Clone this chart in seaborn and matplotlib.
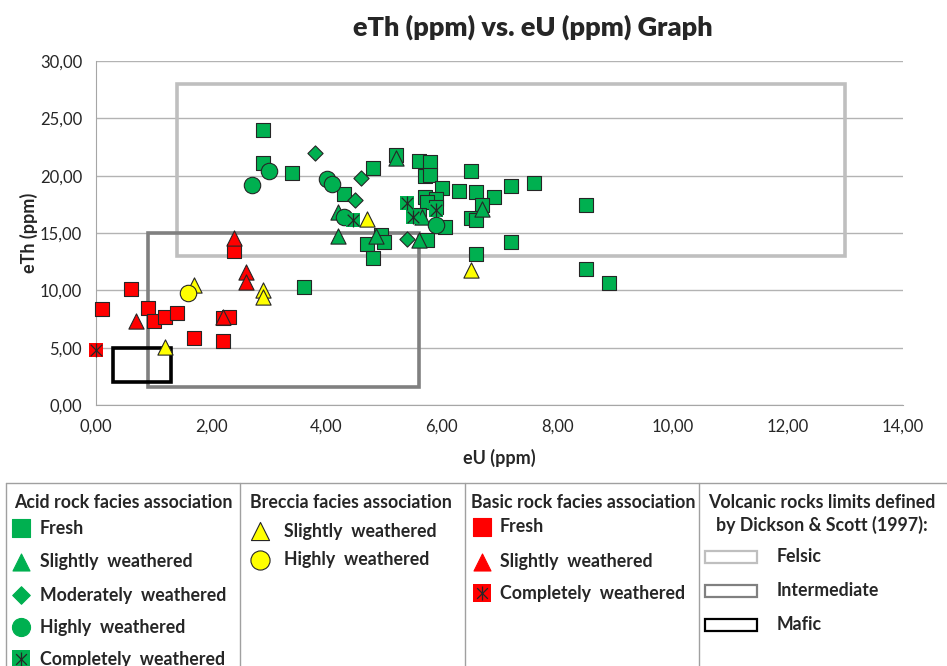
import numpy as np
import pandas as pd
import seaborn as sns
import matplotlib.pyplot as plt
from matplotlib.patches import Rectangle
from matplotlib.ticker import FuncFormatter

#%% data
acid_fresh_u = [2.9, 2.9, 3.4, 4.3, 4.8, 5.2, 5.6, 5.8, 5.7, 5.8, 6.0, 5.7, 5.9, 5.75, 5.6, 6.05,
                6.3, 6.5, 6.6, 6.9, 7.2, 7.6, 6.7, 6.5, 6.6, 7.2, 6.6, 3.6, 4.7, 4.95, 5.0, 4.8,
                5.75, 8.5, 8.5, 8.9, 5.9]
acid_fresh_th = [24.0, 21.1, 20.2, 18.4, 20.7, 21.8, 21.3, 21.2, 20.0, 20.1, 18.9, 18.1, 18.0, 17.7, 16.6, 15.5,
                 18.7, 20.4, 18.6, 18.1, 19.1, 19.4, 17.4, 16.3, 16.1, 14.2, 13.2, 10.3, 14.0, 14.8, 14.2, 12.8,
                 14.4, 17.4, 11.9, 10.6, 17.3]

acid_slight_u = [4.2, 4.2, 5.2, 4.85, 5.6, 5.65, 6.7]
acid_slight_th = [16.8, 14.7, 21.5, 14.7, 14.4, 16.4, 17.1]

acid_moderate_u = [3.8, 4.6, 4.5, 5.4]
acid_moderate_th = [22.0, 19.8, 17.9, 14.5]

acid_high_u = [2.7, 3.0, 4.0, 4.1, 4.3, 5.9]
acid_high_th = [19.2, 20.4, 19.7, 19.3, 16.4, 15.7]

acid_complete_u = [4.45, 5.4, 5.5, 5.9]
acid_complete_th = [16.1, 17.6, 16.4, 17.0]

breccia_slight_u = [1.7, 2.9, 2.9, 1.2, 4.7, 6.5]
breccia_slight_th = [10.5, 10.0, 9.4, 5.1, 16.2, 11.8]

breccia_high_u = [1.6]
breccia_high_th = [9.8]

basic_fresh_u = [0.1, 0.6, 0.9, 1.0, 1.2, 1.4, 2.2, 2.3, 1.7, 2.2, 2.4]
basic_fresh_th = [8.4, 10.1, 8.5, 7.3, 7.7, 8.0, 7.6, 7.7, 5.8, 5.6, 13.4]

basic_slight_u = [0.7, 2.4, 2.6, 2.6, 2.2]
basic_slight_th = [7.3, 14.6, 11.6, 10.7, 7.7]

basic_complete_u = [0.0]
basic_complete_th = [4.8]

# Dickson & Scott (1997) limits: (U min, U max), (Th min, Th max)
limit_names = ["Felsic", "Intermediate", "Mafic"]
limit_u = [(1.4, 13.0), (0.9, 5.6), (0.3, 1.3)]
limit_th = [(13.0, 28.0), (1.6, 15.0), (2.0, 5.0)]

#%% style
GREEN = "#00B050"
RED = "#FF0000"
YELLOW = "#FFFF00"
EDGE = "#262626"
limit_colors = ["#BFBFBF", "#808080", "#000000"]

sns.set_style("white")
plt.rcParams['font.family'] = ['Lato', 'DejaVu Sans']

fig = plt.figure(figsize=(9.47, 6.66), dpi=100)
ax = fig.add_axes([96 / 947, 1 - 405 / 666, (903 - 96) / 947, (405 - 61) / 666])

# limit boxes
for (u0, u1), (t0, t1), c in zip(limit_u, limit_th, limit_colors):
    ax.add_patch(Rectangle((u0, t0), u1 - u0, t1 - t0, fill=False, edgecolor=c, lw=2.6, zorder=2))

series = [
    (acid_fresh_u, acid_fresh_th, "s", GREEN, 110, False),
    (acid_slight_u, acid_slight_th, "^", GREEN, 120, False),
    (acid_moderate_u, acid_moderate_th, "D", GREEN, 60, False),
    (acid_high_u, acid_high_th, "o", GREEN, 140, False),
    (acid_complete_u, acid_complete_th, "s", GREEN, 110, True),
    (basic_fresh_u, basic_fresh_th, "s", RED, 110, False),
    (basic_slight_u, basic_slight_th, "^", RED, 120, False),
    (basic_complete_u, basic_complete_th, "s", RED, 110, True),
    (breccia_slight_u, breccia_slight_th, "^", YELLOW, 120, False),
    (breccia_high_u, breccia_high_th, "o", YELLOW, 140, False),
]

for u, th, mk, col, size, cross in series:
    df = pd.DataFrame({"eU": u, "eTh": th})
    if cross:
        sns.scatterplot(data=df, x="eU", y="eTh", marker=mk, color=col, s=size,
                        edgecolor=col, linewidth=0, ax=ax, zorder=3, clip_on=False)
        sns.scatterplot(data=df, x="eU", y="eTh", marker="x", color=EDGE, s=70,
                        linewidth=0.9, ax=ax, zorder=3, clip_on=False)
        sns.scatterplot(data=df, x="eU", y="eTh", marker="|", color=EDGE, s=110,
                        linewidth=0.9, ax=ax, zorder=3, clip_on=False)
    else:
        sns.scatterplot(data=df, x="eU", y="eTh", marker=mk, color=col, s=size,
                        edgecolor=EDGE, linewidth=0.8, ax=ax, zorder=3, clip_on=False)

ax.set_xlim(0, 14)
ax.set_ylim(0, 30)
ax.set_xticks(np.arange(0, 15, 2))
ax.set_yticks(np.arange(0, 31, 5))
comma = FuncFormatter(lambda v, _: f"{v:.2f}".replace(".", ","))
ax.xaxis.set_major_formatter(comma)
ax.yaxis.set_major_formatter(comma)
ax.yaxis.grid(True, color="#B3B3B3", lw=1)
ax.set_axisbelow(True)
for side in ["top", "right"]:
    ax.spines[side].set_visible(False)
for side in ["left", "bottom"]:
    ax.spines[side].set_color("#A6A6A6")
ax.tick_params(direction="out", length=5, color="#A6A6A6", labelsize=12, pad=5)
ax.set_xlabel("eU (ppm)", fontsize=13, fontweight="bold", labelpad=10)
ax.set_ylabel("eTh (ppm)", fontsize=13, fontweight="bold", labelpad=1)
fig.text(533 / 947, 1 - 27 / 666, "eTh (ppm) vs. eU (ppm) Graph", ha="center", va="center",
         fontsize=19.5, fontweight="heavy")

#%% legend table drawn in pixel coordinates
lg = fig.add_axes([0, 0, 1, 1], zorder=-1)
lg.set_xlim(0, 947)
lg.set_ylim(666, 0)
lg.axis("off")
line_col = "#A0A0A0"
lg.plot([6, 947], [483, 483], color=line_col, lw=1)
for xv in [6, 240, 465, 699]:
    lg.plot([xv, xv], [483, 666], color=line_col, lw=1)

fs = 12.8
head = dict(fontsize=fs, fontweight="bold", va="center", ha="left")


def entry(x, y, mk, col, size, label, cross=False, tx=None):
    if cross:
        lg.scatter([x], [y], marker=mk, s=size, color=col, linewidth=0)
        lg.scatter([x], [y], marker="x", s=60, color=EDGE, linewidth=0.9)
        lg.scatter([x], [y], marker="|", s=100, color=EDGE, linewidth=0.9)
    else:
        lg.scatter([x], [y], marker=mk, s=size, color=col, edgecolor=EDGE if col == YELLOW else col,
                   linewidth=0.8)
    lg.text(tx if tx else x + 19, y, label, **head)


lg.text(14, 502, "Acid rock facies association", **head)
entry(21, 528, "s", GREEN, 150, "Fresh", tx=40)
entry(21, 562, "^", GREEN, 150, "Slightly  weathered", tx=40)
entry(21, 595, "D", GREEN, 80, "Moderately  weathered", tx=40)
entry(21, 627, "o", GREEN, 170, "Highly  weathered", tx=40)
entry(21, 659, "s", GREEN, 150, "Completely  weathered", cross=True, tx=40)

lg.text(250, 502, "Breccia facies association", **head)
entry(260, 531, "^", YELLOW, 170, "Slightly  weathered", tx=284)
entry(260, 560, "o", YELLOW, 190, "Highly  weathered", tx=284)

lg.text(471, 502, "Basic rock facies association", **head)
entry(482, 527, "s", RED, 150, "Fresh", tx=500)
entry(482, 562, "^", RED, 150, "Slightly  weathered", tx=500)
entry(482, 593, "s", RED, 150, "Completely  weathered", cross=True, tx=500)

lg.text(822, 502, "Volcanic rocks limits defined", fontsize=fs, fontweight="bold", va="center", ha="center")
lg.text(822, 525, "by Dickson & Scott (1997):", fontsize=fs, fontweight="bold", va="center", ha="center")
for name, c, yv in zip(limit_names, limit_colors, [557, 591, 625]):
    lg.add_patch(Rectangle((705, yv - 6), 52, 12, fill=False, edgecolor=c, lw=1.6))
    lg.text(777, yv, name, **head)

fig.savefig("out.png", dpi=100)
